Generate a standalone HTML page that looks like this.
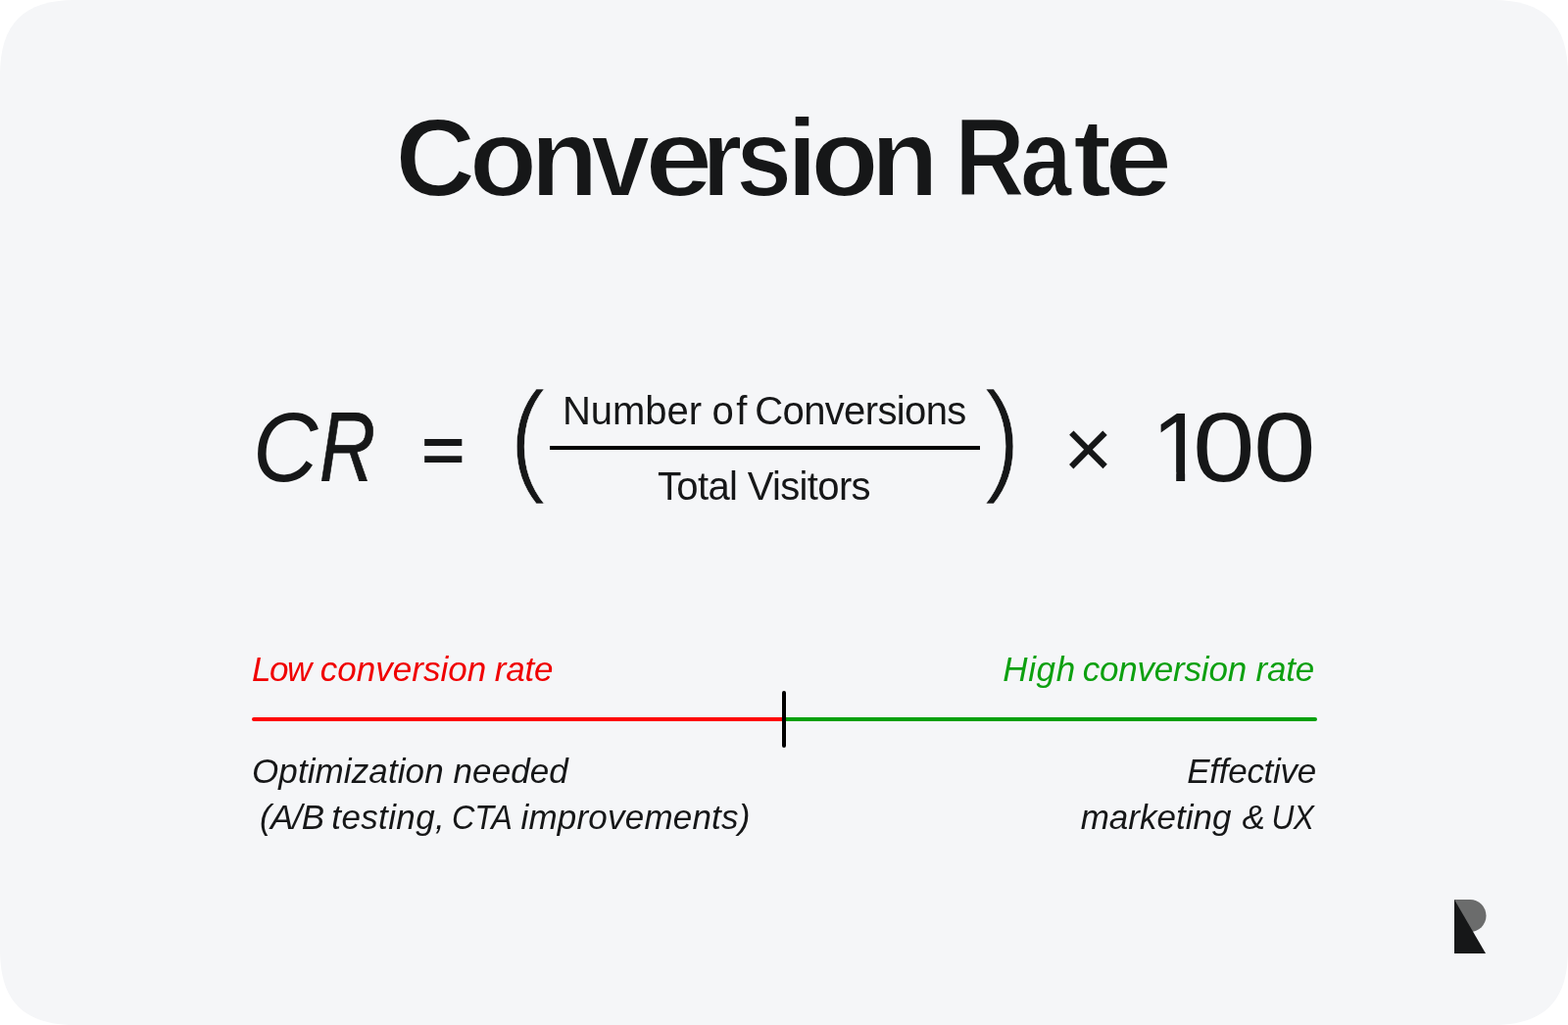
<!DOCTYPE html>
<html lang="en">
<head>
<meta charset="utf-8">
<title>Conversion Rate</title>
<style>
  html, body { margin: 0; padding: 0; background: #ffffff; }
  body { width: 1600px; height: 1046px; overflow: hidden; position: relative;
         font-family: "Liberation Sans", sans-serif; color: #161718; }
  .card { position: absolute; left: 0; top: 0; width: 1600px; height: 1046px; display: block; }
  .t { position: absolute; white-space: nowrap; line-height: 1; margin: 0; }
  #title { left: 403.2px; top: 104px; font-size: 113.6px; font-weight: 700; -webkit-text-stroke: 2px #f5f6f8; }
  #cr { left: 258px; top: 406px; font-size: 100px; font-style: italic; }
  #cr span { position: absolute; top: 0; transform-origin: 0 0; }
  #crC { left: 0; transform: scaleX(0.92); }
  #crR { left: 68px; transform: scaleX(0.79); -webkit-text-stroke: 0.8px #161718; }
  #eq { left: 429.6px; top: 428.7px; font-size: 62.4px; font-weight: 700; transform-origin: 0 0; transform: scaleX(1.22); }
  #lp { left: 511px; top: 391.3px; font-family: "IPAGothic", "Liberation Sans", sans-serif; font-size: 130.5px; transform-origin: 0 0; transform: scaleX(0.8); -webkit-text-stroke: 0.6px #f5f6f8; }
  #rp { left: 997.5px; top: 391.3px; font-family: "IPAGothic", "Liberation Sans", sans-serif; font-size: 130.5px; transform-origin: 0 0; transform: scaleX(0.8); -webkit-text-stroke: 0.6px #f5f6f8; }
  #num { left: 573.9px; top: 398.5px; font-size: 40px; }
  #den { left: 671px; top: 476px; font-size: 40px; letter-spacing: -0.65px; }
  #bar { position: absolute; left: 561px; top: 455px; width: 439px; height: 4px; background: #000; }
  #mul { left: 1085px; top: 414px; font-size: 87px; }
  #hun { left: 0; top: 406.3px; font-size: 100px; }
  #hun span { position: absolute; top: 0; transform-origin: 0 0; }
  #h1 { left: 1175.1px; clip-path: polygon(0 0, 100% 0, 100% 75.5px, 34.05px 75.5px, 34.05px 100%, 25.1px 100%, 25.1px 75.5px, 0 75.5px); }
  #h2 { left: 1217.3px; transform: scaleX(1.144); }
  #h3 { left: 1278.6px; transform: scaleX(1.144); }
  #low { left: 257px; top: 664.7px; font-size: 35px; letter-spacing: -0.3px; font-style: italic; color: #f00000; }
  #high { right: 259px; top: 664.7px; font-size: 35px; letter-spacing: -0.2px; font-style: italic; color: #0da010; }
  #opt1 { left: 257px; top: 768.5px; font-size: 35px; letter-spacing: 0.1px; font-style: italic; }
  #opt2 { left: 265px; top: 815.6px; font-size: 35px; letter-spacing: -0.24px; font-style: italic; }
  #eff1 { right: 257px; top: 768.5px; font-size: 35px; letter-spacing: -0.27px; font-style: italic; }
  #eff2 { right: 259.4px; top: 815.6px; font-size: 35px; letter-spacing: -0.6px; font-style: italic; }
  #redline { position: absolute; left: 257px; top: 732px; width: 545px; height: 4px; border-radius: 2px; background: #ff0000; }
  #greenline { position: absolute; left: 800px; top: 732px; width: 544px; height: 4px; border-radius: 2px; background: #00a00a; }
  #tick { position: absolute; left: 798px; top: 705px; width: 4px; height: 58px; border-radius: 2px; background: #000; }
  #logo { position: absolute; left: 1484px; top: 918px; width: 33px; height: 55px; }
</style>
</head>
<body>
<svg class="card" width="1600" height="1046" viewBox="0 0 1600 1046"><path d="M76 0 H1524 C1575.5 0 1600 24.5 1600 76 V970 C1600 1021.5 1575.5 1046 1524 1046 H76 C24.5 1046 0 1021.5 0 970 V76 C0 24.5 24.5 0 76 0 Z" fill="#f5f6f8"/></svg>
<h1 class="t" id="title"><span id="t0" style="letter-spacing:-6.4px">C</span><span id="t1" style="letter-spacing:-7px">o</span><span id="t2" style="letter-spacing:-8px">n</span><span id="t3" style="letter-spacing:-8.1px;display:inline-block;transform-origin:0 0;transform:scaleX(0.955)">v</span><span id="t4" style="letter-spacing:-4.6px;display:inline-block;transform-origin:0 0;transform:scaleX(1.1)">e</span><span id="t5" style="letter-spacing:-9.1px;display:inline-block;transform-origin:0 0;transform:scaleX(0.94)">r</span><span id="t6" style="letter-spacing:-11.9px;display:inline-block;transform-origin:0 0;transform:scaleX(0.905)">s</span><span id="t7" style="letter-spacing:-7px">i</span><span id="t8" style="letter-spacing:-8px">o</span><span id="t9" style="letter-spacing:-7px">n</span><span id="t10" style="letter-spacing:-8.7px"> </span><span id="t11" style="letter-spacing:-14.9px;display:inline-block;transform-origin:0 0;transform:scaleX(0.877)">R</span><span id="t12" style="letter-spacing:-8.9px;display:inline-block;transform-origin:0 0;transform:scaleX(0.835)">a</span><span id="t13" style="letter-spacing:-6px;display:inline-block;transform-origin:0 0;transform:scaleX(1.04)">t</span><span id="t14" style="letter-spacing:0px;display:inline-block;transform-origin:0 0;transform:scaleX(1.1)">e</span></h1>
<div class="t" id="cr"><span id="crC">C</span><span id="crR">R</span></div>
<div class="t" id="eq">=</div>
<div class="t" id="lp">(</div>
<div class="t" id="num"><span style="letter-spacing:0">Number</span><span style="letter-spacing:-0.9px"> </span><span style="letter-spacing:2.5px">o</span><span style="letter-spacing:-1.5px">f</span><span style="letter-spacing:-1.6px"> </span><span style="letter-spacing:-0.63px">Conversions</span></div>
<div id="bar"></div>
<div class="t" id="den">Total Visitors</div>
<div class="t" id="rp">)</div>
<div class="t" id="mul">×</div>
<div class="t" id="hun"><span id="h1">1</span><span id="h2">0</span><span id="h3">0</span></div>
<div class="t" id="low"><span style="letter-spacing:-1.5px">Lo</span>w<span style="letter-spacing:-0.8px"> </span><span style="letter-spacing:0px">conversion</span><span style="letter-spacing:-1.1px"> </span><span style="letter-spacing:-0.2px">rate</span></div>
<div class="t" id="high"><span style="letter-spacing:0.63px">Hig</span>h<span style="letter-spacing:-2.0px"> </span>conversion rate</div>
<div id="redline"></div>
<div id="greenline"></div>
<div id="tick"></div>
<div class="t" id="opt1">Optimization needed</div>
<div class="t" id="opt2"><span style="letter-spacing:-0.7px">(A/</span>B<span style="letter-spacing:-2.15px"> </span><span style="letter-spacing:0.37px">testing,</span><span style="letter-spacing:-3.2px"> </span><span style="display:inline-block;transform-origin:0 0;transform:scaleX(0.925)">CTA</span><span style="letter-spacing:-5.64px"> </span><span style="letter-spacing:0.21px">improvements)</span></div>
<div class="t" id="eff1">Effective</div>
<div class="t" id="eff2"><span style="letter-spacing:0px">marketin</span>g<span style="letter-spacing:2.1px"> </span>&amp;<span style="letter-spacing:-6.9px"> </span><span style="display:inline-block;transform-origin:100% 0;transform:scaleX(0.905)">UX</span></div>
<svg id="logo" viewBox="0 0 33 55">
  <path d="M0 0 H16 A16.5 16.5 0 0 1 16 33 H0 Z" fill="#6b6c6c"/>
  <path d="M0 0 L32 55 H0 Z" fill="#161718"/>
</svg>
</body>
</html>
